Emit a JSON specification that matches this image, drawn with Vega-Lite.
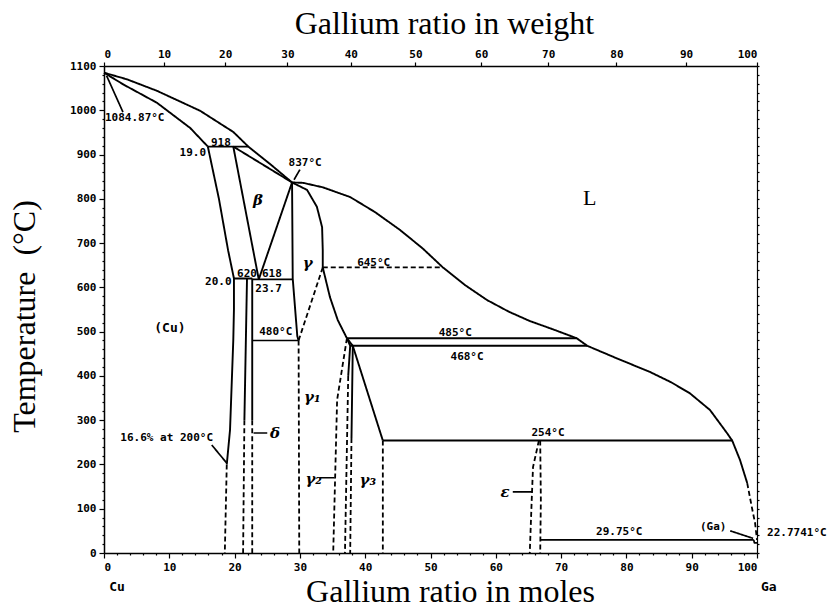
{
  "$schema": "https://vega.github.io/schema/vega-lite/v6.json",
  "width": 653,
  "height": 487,
  "autosize": "none",
  "padding": {"left": 104, "top": 66, "right": 72, "bottom": 54},
  "background": "white",
  "config": {
    "view": {"stroke": null},
    "axis": {"grid": false, "domainColor": "black", "tickColor": "black", "labelColor": "black", "titleColor": "black", "domainWidth": 1.5, "tickWidth": 1.2}
  },
  "datasets": {
    "boundaries": [
      {"id": "liq", "k": 0, "x": 0, "t": 1084.87, "kind": "firm"},
      {"id": "liq", "k": 1, "x": 3.5, "t": 1070, "kind": "firm"},
      {"id": "liq", "k": 2, "x": 8.1, "t": 1044, "kind": "firm"},
      {"id": "liq", "k": 3, "x": 14.7, "t": 999, "kind": "firm"},
      {"id": "liq", "k": 4, "x": 19.8, "t": 951, "kind": "firm"},
      {"id": "liq", "k": 5, "x": 22.1, "t": 918, "kind": "firm"},
      {"id": "liq", "k": 6, "x": 25.4, "t": 879, "kind": "firm"},
      {"id": "liq", "k": 7, "x": 28.8, "t": 837, "kind": "firm"},
      {"id": "liq", "k": 8, "x": 30.5, "t": 836, "kind": "firm"},
      {"id": "liq", "k": 9, "x": 33.5, "t": 826, "kind": "firm"},
      {"id": "liq", "k": 10, "x": 37.7, "t": 804, "kind": "firm"},
      {"id": "liq", "k": 11, "x": 41.5, "t": 770, "kind": "firm"},
      {"id": "liq", "k": 12, "x": 45.3, "t": 730, "kind": "firm"},
      {"id": "liq", "k": 13, "x": 48.8, "t": 688, "kind": "firm"},
      {"id": "liq", "k": 14, "x": 51.9, "t": 645, "kind": "firm"},
      {"id": "liq", "k": 15, "x": 55.3, "t": 605, "kind": "firm"},
      {"id": "liq", "k": 16, "x": 58.7, "t": 571, "kind": "firm"},
      {"id": "liq", "k": 17, "x": 62.0, "t": 545, "kind": "firm"},
      {"id": "liq", "k": 18, "x": 65.2, "t": 524, "kind": "firm"},
      {"id": "liq", "k": 19, "x": 68.8, "t": 505, "kind": "firm"},
      {"id": "liq", "k": 20, "x": 72.4, "t": 485, "kind": "firm"},
      {"id": "liq", "k": 21, "x": 74.0, "t": 468, "kind": "firm"},
      {"id": "liq", "k": 22, "x": 78.8, "t": 438, "kind": "firm"},
      {"id": "liq", "k": 23, "x": 83.6, "t": 409, "kind": "firm"},
      {"id": "liq", "k": 24, "x": 86.8, "t": 386, "kind": "firm"},
      {"id": "liq", "k": 25, "x": 89.7, "t": 361, "kind": "firm"},
      {"id": "liq", "k": 26, "x": 92.8, "t": 323, "kind": "firm"},
      {"id": "liq", "k": 27, "x": 95.4, "t": 271, "kind": "firm"},
      {"id": "liq", "k": 28, "x": 96.2, "t": 254, "kind": "firm"},
      {"id": "liq", "k": 29, "x": 97.4, "t": 210, "kind": "firm"},
      {"id": "liq", "k": 30, "x": 98.5, "t": 158, "kind": "firm"},
      {"id": "liqGa", "k": 0, "x": 98.5, "t": 158, "kind": "tentative"},
      {"id": "liqGa", "k": 1, "x": 99.2, "t": 104, "kind": "tentative"},
      {"id": "liqGa", "k": 2, "x": 99.7, "t": 68, "kind": "tentative"},
      {"id": "liqGa", "k": 3, "x": 100, "t": 29.75, "kind": "tentative"},
      {"id": "solCu", "k": 0, "x": 0, "t": 1084.87, "kind": "firm"},
      {"id": "solCu", "k": 1, "x": 3.0, "t": 1058, "kind": "firm"},
      {"id": "solCu", "k": 2, "x": 8.1, "t": 1017, "kind": "firm"},
      {"id": "solCu", "k": 3, "x": 13.2, "t": 960, "kind": "firm"},
      {"id": "solCu", "k": 4, "x": 15.9, "t": 918, "kind": "firm"},
      {"id": "per918", "k": 0, "x": 15.9, "t": 918, "kind": "firm"},
      {"id": "per918", "k": 1, "x": 22.1, "t": 918, "kind": "firm"},
      {"id": "solvCu", "k": 0, "x": 15.9, "t": 918, "kind": "firm"},
      {"id": "solvCu", "k": 1, "x": 17.6, "t": 800, "kind": "firm"},
      {"id": "solvCu", "k": 2, "x": 19.0, "t": 684, "kind": "firm"},
      {"id": "solvCu", "k": 3, "x": 19.9, "t": 620, "kind": "firm"},
      {"id": "solvCu", "k": 4, "x": 19.9, "t": 550, "kind": "firm"},
      {"id": "solvCu", "k": 5, "x": 19.8, "t": 481, "kind": "firm"},
      {"id": "solvCu", "k": 6, "x": 19.3, "t": 278, "kind": "firm"},
      {"id": "solvCu", "k": 7, "x": 18.8, "t": 200, "kind": "firm"},
      {"id": "solvCuLow", "k": 0, "x": 18.8, "t": 200, "kind": "tentative"},
      {"id": "solvCuLow", "k": 1, "x": 18.5, "t": 0, "kind": "tentative"},
      {"id": "betaL", "k": 0, "x": 19.8, "t": 918, "kind": "firm"},
      {"id": "betaL", "k": 1, "x": 23.7, "t": 618, "kind": "firm"},
      {"id": "betaSol", "k": 0, "x": 19.8, "t": 918, "kind": "firm"},
      {"id": "betaSol", "k": 1, "x": 28.8, "t": 837, "kind": "firm"},
      {"id": "betaR", "k": 0, "x": 28.8, "t": 837, "kind": "firm"},
      {"id": "betaR", "k": 1, "x": 23.7, "t": 618, "kind": "firm"},
      {"id": "h620", "k": 0, "x": 19.9, "t": 620, "kind": "firm"},
      {"id": "h620", "k": 1, "x": 22.7, "t": 620, "kind": "firm"},
      {"id": "h618", "k": 0, "x": 22.7, "t": 618, "kind": "firm"},
      {"id": "h618", "k": 1, "x": 28.9, "t": 618, "kind": "firm"},
      {"id": "zetaL", "k": 0, "x": 21.9, "t": 620, "kind": "firm"},
      {"id": "zetaL", "k": 1, "x": 21.5, "t": 300, "kind": "firm"},
      {"id": "zetaLlow", "k": 0, "x": 21.5, "t": 300, "kind": "tentative"},
      {"id": "zetaLlow", "k": 1, "x": 21.3, "t": 0, "kind": "tentative"},
      {"id": "zetaR", "k": 0, "x": 22.7, "t": 620, "kind": "firm"},
      {"id": "zetaR", "k": 1, "x": 22.7, "t": 300, "kind": "firm"},
      {"id": "zetaRlow", "k": 0, "x": 22.7, "t": 300, "kind": "tentative"},
      {"id": "zetaRlow", "k": 1, "x": 22.7, "t": 0, "kind": "tentative"},
      {"id": "gamL", "k": 0, "x": 28.8, "t": 837, "kind": "firm"},
      {"id": "gamL", "k": 1, "x": 28.9, "t": 620, "kind": "firm"},
      {"id": "gamL", "k": 2, "x": 29.6, "t": 490, "kind": "firm"},
      {"id": "gamL", "k": 3, "x": 29.8, "t": 480, "kind": "firm"},
      {"id": "gamLlow", "k": 0, "x": 29.8, "t": 480, "kind": "tentative"},
      {"id": "gamLlow", "k": 1, "x": 29.9, "t": 0, "kind": "tentative"},
      {"id": "h480", "k": 0, "x": 22.7, "t": 480, "kind": "pointer"},
      {"id": "h480", "k": 1, "x": 29.8, "t": 480, "kind": "pointer"},
      {"id": "gam480", "k": 0, "x": 29.8, "t": 480, "kind": "tentative"},
      {"id": "gam480", "k": 1, "x": 33.5, "t": 645, "kind": "tentative"},
      {"id": "gamR", "k": 0, "x": 28.8, "t": 837, "kind": "firm"},
      {"id": "gamR", "k": 1, "x": 31.1, "t": 820, "kind": "firm"},
      {"id": "gamR", "k": 2, "x": 32.6, "t": 782, "kind": "firm"},
      {"id": "gamR", "k": 3, "x": 33.4, "t": 736, "kind": "firm"},
      {"id": "gamR", "k": 4, "x": 33.5, "t": 684, "kind": "firm"},
      {"id": "gamR", "k": 5, "x": 33.5, "t": 645, "kind": "firm"},
      {"id": "gamR", "k": 6, "x": 34.6, "t": 578, "kind": "firm"},
      {"id": "gamR", "k": 7, "x": 35.8, "t": 526, "kind": "firm"},
      {"id": "gamR", "k": 8, "x": 37.2, "t": 485, "kind": "firm"},
      {"id": "h645", "k": 0, "x": 33.5, "t": 645, "kind": "tentative"},
      {"id": "h645", "k": 1, "x": 51.9, "t": 645, "kind": "tentative"},
      {"id": "h485", "k": 0, "x": 37.2, "t": 485, "kind": "firm"},
      {"id": "h485", "k": 1, "x": 72.4, "t": 485, "kind": "firm"},
      {"id": "h468", "k": 0, "x": 37.7, "t": 468, "kind": "firm"},
      {"id": "h468", "k": 1, "x": 74.0, "t": 468, "kind": "firm"},
      {"id": "gam12", "k": 0, "x": 37.2, "t": 485, "kind": "tentative"},
      {"id": "gam12", "k": 1, "x": 35.7, "t": 346, "kind": "tentative"},
      {"id": "gam12", "k": 2, "x": 35.1, "t": 0, "kind": "tentative"},
      {"id": "gam2R", "k": 0, "x": 37.2, "t": 485, "kind": "firm"},
      {"id": "gam2R", "k": 1, "x": 37.7, "t": 468, "kind": "firm"},
      {"id": "gam2R", "k": 2, "x": 37.4, "t": 400, "kind": "firm"},
      {"id": "gam2Rlow", "k": 0, "x": 37.4, "t": 400, "kind": "tentative"},
      {"id": "gam2Rlow", "k": 1, "x": 36.9, "t": 0, "kind": "tentative"},
      {"id": "gam3L", "k": 0, "x": 37.2, "t": 485, "kind": "firm"},
      {"id": "gam3L", "k": 1, "x": 38.1, "t": 468, "kind": "firm"},
      {"id": "gam3L", "k": 2, "x": 37.9, "t": 260, "kind": "firm"},
      {"id": "gam3Llow", "k": 0, "x": 37.9, "t": 260, "kind": "tentative"},
      {"id": "gam3Llow", "k": 1, "x": 37.7, "t": 0, "kind": "tentative"},
      {"id": "gam3R", "k": 0, "x": 38.1, "t": 468, "kind": "firm"},
      {"id": "gam3R", "k": 1, "x": 42.7, "t": 254, "kind": "firm"},
      {"id": "gam3Rlow", "k": 0, "x": 42.7, "t": 254, "kind": "tentative"},
      {"id": "gam3Rlow", "k": 1, "x": 42.7, "t": 0, "kind": "tentative"},
      {"id": "h254", "k": 0, "x": 42.7, "t": 254, "kind": "firm"},
      {"id": "h254", "k": 1, "x": 96.2, "t": 254, "kind": "firm"},
      {"id": "epsL", "k": 0, "x": 66.6, "t": 254, "kind": "tentative"},
      {"id": "epsL", "k": 1, "x": 65.7, "t": 194, "kind": "tentative"},
      {"id": "epsL", "k": 2, "x": 65.5, "t": 120, "kind": "tentative"},
      {"id": "epsL", "k": 3, "x": 65.2, "t": 0, "kind": "tentative"},
      {"id": "epsR", "k": 0, "x": 66.8, "t": 254, "kind": "tentative"},
      {"id": "epsR", "k": 1, "x": 66.9, "t": 120, "kind": "tentative"},
      {"id": "epsR", "k": 2, "x": 66.8, "t": 0, "kind": "tentative"},
      {"id": "h2975", "k": 0, "x": 66.8, "t": 29.75, "kind": "firm"},
      {"id": "h2975", "k": 1, "x": 99.5, "t": 29.75, "kind": "firm"},
      {"id": "gaEnd", "k": 0, "x": 99.5, "t": 29.75, "kind": "pointer"},
      {"id": "gaEnd", "k": 1, "x": 99.6, "t": 22.77, "kind": "pointer"},
      {"id": "gaEnd", "k": 2, "x": 100, "t": 22.77, "kind": "pointer"},
      {"id": "p1084", "k": 0, "x": 0.4, "t": 1078, "kind": "pointer"},
      {"id": "p1084", "k": 1, "x": 2.9, "t": 996, "kind": "pointer"},
      {"id": "p837", "k": 0, "x": 30.0, "t": 866, "kind": "pointer"},
      {"id": "p837", "k": 1, "x": 29.1, "t": 843, "kind": "pointer"},
      {"id": "p166", "k": 0, "x": 16.5, "t": 244, "kind": "pointer"},
      {"id": "p166", "k": 1, "x": 18.8, "t": 203, "kind": "pointer"},
      {"id": "pdelta", "k": 0, "x": 22.9, "t": 271, "kind": "pointer"},
      {"id": "pdelta", "k": 1, "x": 25.0, "t": 271, "kind": "pointer"},
      {"id": "pgam2", "k": 0, "x": 33.0, "t": 170, "kind": "pointer"},
      {"id": "pgam2", "k": 1, "x": 35.3, "t": 170, "kind": "pointer"},
      {"id": "peps", "k": 0, "x": 62.6, "t": 138, "kind": "pointer"},
      {"id": "peps", "k": 1, "x": 65.6, "t": 138, "kind": "pointer"},
      {"id": "pGa", "k": 0, "x": 95.9, "t": 50, "kind": "pointer"},
      {"id": "pGa", "k": 1, "x": 99.4, "t": 33, "kind": "pointer"}
    ],
    "annotations": [
      {"text": "1084.87°C", "x": 4.7, "t": 983, "role": "value"},
      {"text": "19.0", "x": 13.6, "t": 903, "role": "value"},
      {"text": "918", "x": 17.9, "t": 925, "role": "value"},
      {"text": "837°C", "x": 30.8, "t": 881, "role": "value"},
      {"text": "20.0", "x": 17.5, "t": 612, "role": "value"},
      {"text": "620", "x": 21.9, "t": 630, "role": "value"},
      {"text": "618", "x": 25.7, "t": 630, "role": "value"},
      {"text": "23.7", "x": 25.2, "t": 596, "role": "value"},
      {"text": "480°C", "x": 26.3, "t": 499, "role": "value"},
      {"text": "645°C", "x": 41.3, "t": 655, "role": "value"},
      {"text": "485°C", "x": 53.8, "t": 497, "role": "value"},
      {"text": "468°C", "x": 55.6, "t": 443, "role": "value"},
      {"text": "254°C", "x": 68.0, "t": 271, "role": "value"},
      {"text": "16.6% at 200°C", "x": 9.6, "t": 260, "role": "value"},
      {"text": "29.75°C", "x": 78.9, "t": 47, "role": "value"},
      {"text": "(Ga)", "x": 93.3, "t": 59, "role": "value"},
      {"text": "22.7741°C", "x": 106.1, "t": 45, "role": "value"},
      {"text": "(Cu)", "x": 10.1, "t": 508, "role": "element"},
      {"text": "β", "x": 23.6, "t": 797, "role": "phase"},
      {"text": "γ", "x": 31.2, "t": 655, "role": "phase"},
      {"text": "γ₁", "x": 31.9, "t": 352, "role": "phase"},
      {"text": "γ₂", "x": 32.1, "t": 167, "role": "phase"},
      {"text": "γ₃", "x": 40.4, "t": 165, "role": "phase"},
      {"text": "δ", "x": 26.2, "t": 271, "role": "phase"},
      {"text": "ε", "x": 61.4, "t": 138, "role": "phase"},
      {"text": "L", "x": 74.4, "t": 802, "role": "region"},
      {"text": "Cu", "x": 2.0, "t": -77, "role": "element"},
      {"text": "Ga", "x": 101.8, "t": -77, "role": "element"}
    ]
  },
  "resolve": {"axis": {"x": "independent", "y": "independent"}},
  "layer": [
    {
      "data": {"name": "boundaries"},
      "mark": {"type": "line", "color": "black", "strokeCap": "butt", "strokeJoin": "round"},
      "encoding": {
        "x": {
          "field": "x", "type": "quantitative",
          "scale": {"domain": [0, 100], "nice": false},
          "axis": {
            "orient": "bottom",
            "values": [0,2,4,6,8,10,12,14,16,18,20,22,24,26,28,30,32,34,36,38,40,42,44,46,48,50,52,54,56,58,60,62,64,66,68,70,72,74,76,78,80,82,84,86,88,90,92,94,96,98,100],
            "labelExpr": "datum.value % 10 === 0 ? datum.label : ''",
            "tickSize": {"condition": {"test": "datum.value % 10 === 0", "value": 5}, "value": 2},
            "labelOverlap": false,
            "labelFont": "DejaVu Sans Mono", "labelFontWeight": "bold", "labelFontSize": 11, "labelPadding": 3,
            "title": "Gallium ratio in moles",
            "titleFont": "Liberation Serif", "titleFontSize": 32, "titleFontWeight": "normal",
            "titlePadding": 4, "titleX": 346
          }
        },
        "y": {
          "field": "t", "type": "quantitative",
          "scale": {"domain": [0, 1100], "nice": false},
          "axis": {
            "orient": "left",
            "values": [0,20,40,60,80,100,120,140,160,180,200,220,240,260,280,300,320,340,360,380,400,420,440,460,480,500,520,540,560,580,600,620,640,660,680,700,720,740,760,780,800,820,840,860,880,900,920,940,960,980,1000,1020,1040,1060,1080,1100],
            "labelExpr": "datum.value % 100 === 0 ? datum.label : ''",
            "tickSize": {"condition": {"test": "datum.value % 100 === 0", "value": 5}, "value": 2},
            "labelOverlap": false,
            "format": "d",
            "labelFont": "DejaVu Sans Mono", "labelFontWeight": "bold", "labelFontSize": 11, "labelPadding": 3,
            "title": "Temperature\u00a0 (°C)",
            "titleFont": "Liberation Serif", "titleFontSize": 32, "titleFontWeight": "normal",
            "titlePadding": 28, "titleY": 250
          }
        },
        "detail": {"field": "id"},
        "order": {"field": "k", "type": "quantitative"},
        "strokeDash": {"field": "kind", "type": "nominal", "scale": {"domain": ["firm", "tentative", "pointer"], "range": [[1, 0], [5, 3], [1, 0]]}, "legend": null},
        "strokeWidth": {"field": "kind", "type": "ordinal", "scale": {"domain": ["firm", "tentative", "pointer"], "range": [1.9, 1.7, 1.1]}, "legend": null}
      }
    },
    {
      "data": {"name": "annotations"},
      "transform": [{"filter": "datum.role === 'value'"}],
      "mark": {"type": "text", "font": "DejaVu Sans Mono", "fontWeight": "bold", "fontSize": 11, "color": "black"},
      "encoding": {
        "x": {
          "field": "x", "type": "quantitative",
          "scale": {"domain": [0, 100], "nice": false},
          "axis": {
            "orient": "top",
            "values": [0, 9.196, 18.559, 28.091, 37.798, 47.685, 57.757, 68.019, 78.477, 89.134, 100],
            "labelExpr": "format(100 * datum.value * 69.72 / (datum.value * 69.72 + (100 - datum.value) * 63.55), '.0f')",
            "tickSize": 4,
            "labelOverlap": false,
            "labelFont": "DejaVu Sans Mono", "labelFontWeight": "bold", "labelFontSize": 11, "labelPadding": 3,
            "title": "Gallium ratio in weight",
            "titleFont": "Liberation Serif", "titleFontSize": 32, "titleFontWeight": "normal",
            "titlePadding": 8, "titleX": 340
          }
        },
        "y": {
          "field": "t", "type": "quantitative",
          "scale": {"domain": [0, 1100], "nice": false},
          "axis": {
            "orient": "right",
            "values": [0,20,40,60,80,100,120,140,160,180,200,220,240,260,280,300,320,340,360,380,400,420,440,460,480,500,520,540,560,580,600,620,640,660,680,700,720,740,760,780,800,820,840,860,880,900,920,940,960,980,1000,1020,1040,1060,1080,1100],
            "labels": false, "title": null, "tickSize": 2, "domainWidth": 1.2
          }
        },
        "text": {"field": "text"}
      }
    },
    {
      "data": {"name": "annotations"},
      "transform": [{"filter": "datum.role === 'phase'"}],
      "mark": {"type": "text", "font": "DejaVu Serif", "fontStyle": "italic", "fontWeight": "bold", "fontSize": 15, "color": "black"},
      "encoding": {
        "x": {"field": "x", "type": "quantitative", "scale": {"domain": [0, 100], "nice": false}, "axis": null},
        "y": {"field": "t", "type": "quantitative", "scale": {"domain": [0, 1100], "nice": false}, "axis": null},
        "text": {"field": "text"}
      }
    },
    {
      "data": {"name": "annotations"},
      "transform": [{"filter": "datum.role === 'region'"}],
      "mark": {"type": "text", "font": "Liberation Serif", "fontSize": 22, "color": "black"},
      "encoding": {
        "x": {"field": "x", "type": "quantitative", "scale": {"domain": [0, 100], "nice": false}, "axis": null},
        "y": {"field": "t", "type": "quantitative", "scale": {"domain": [0, 1100], "nice": false}, "axis": null},
        "text": {"field": "text"}
      }
    },
    {
      "data": {"name": "annotations"},
      "transform": [{"filter": "datum.role === 'element'"}],
      "mark": {"type": "text", "font": "DejaVu Sans Mono", "fontWeight": "bold", "fontSize": 13, "color": "black"},
      "encoding": {
        "x": {"field": "x", "type": "quantitative", "scale": {"domain": [0, 100], "nice": false}, "axis": null},
        "y": {"field": "t", "type": "quantitative", "scale": {"domain": [0, 1100], "nice": false}, "axis": null},
        "text": {"field": "text"}
      }
    }
  ]
}
